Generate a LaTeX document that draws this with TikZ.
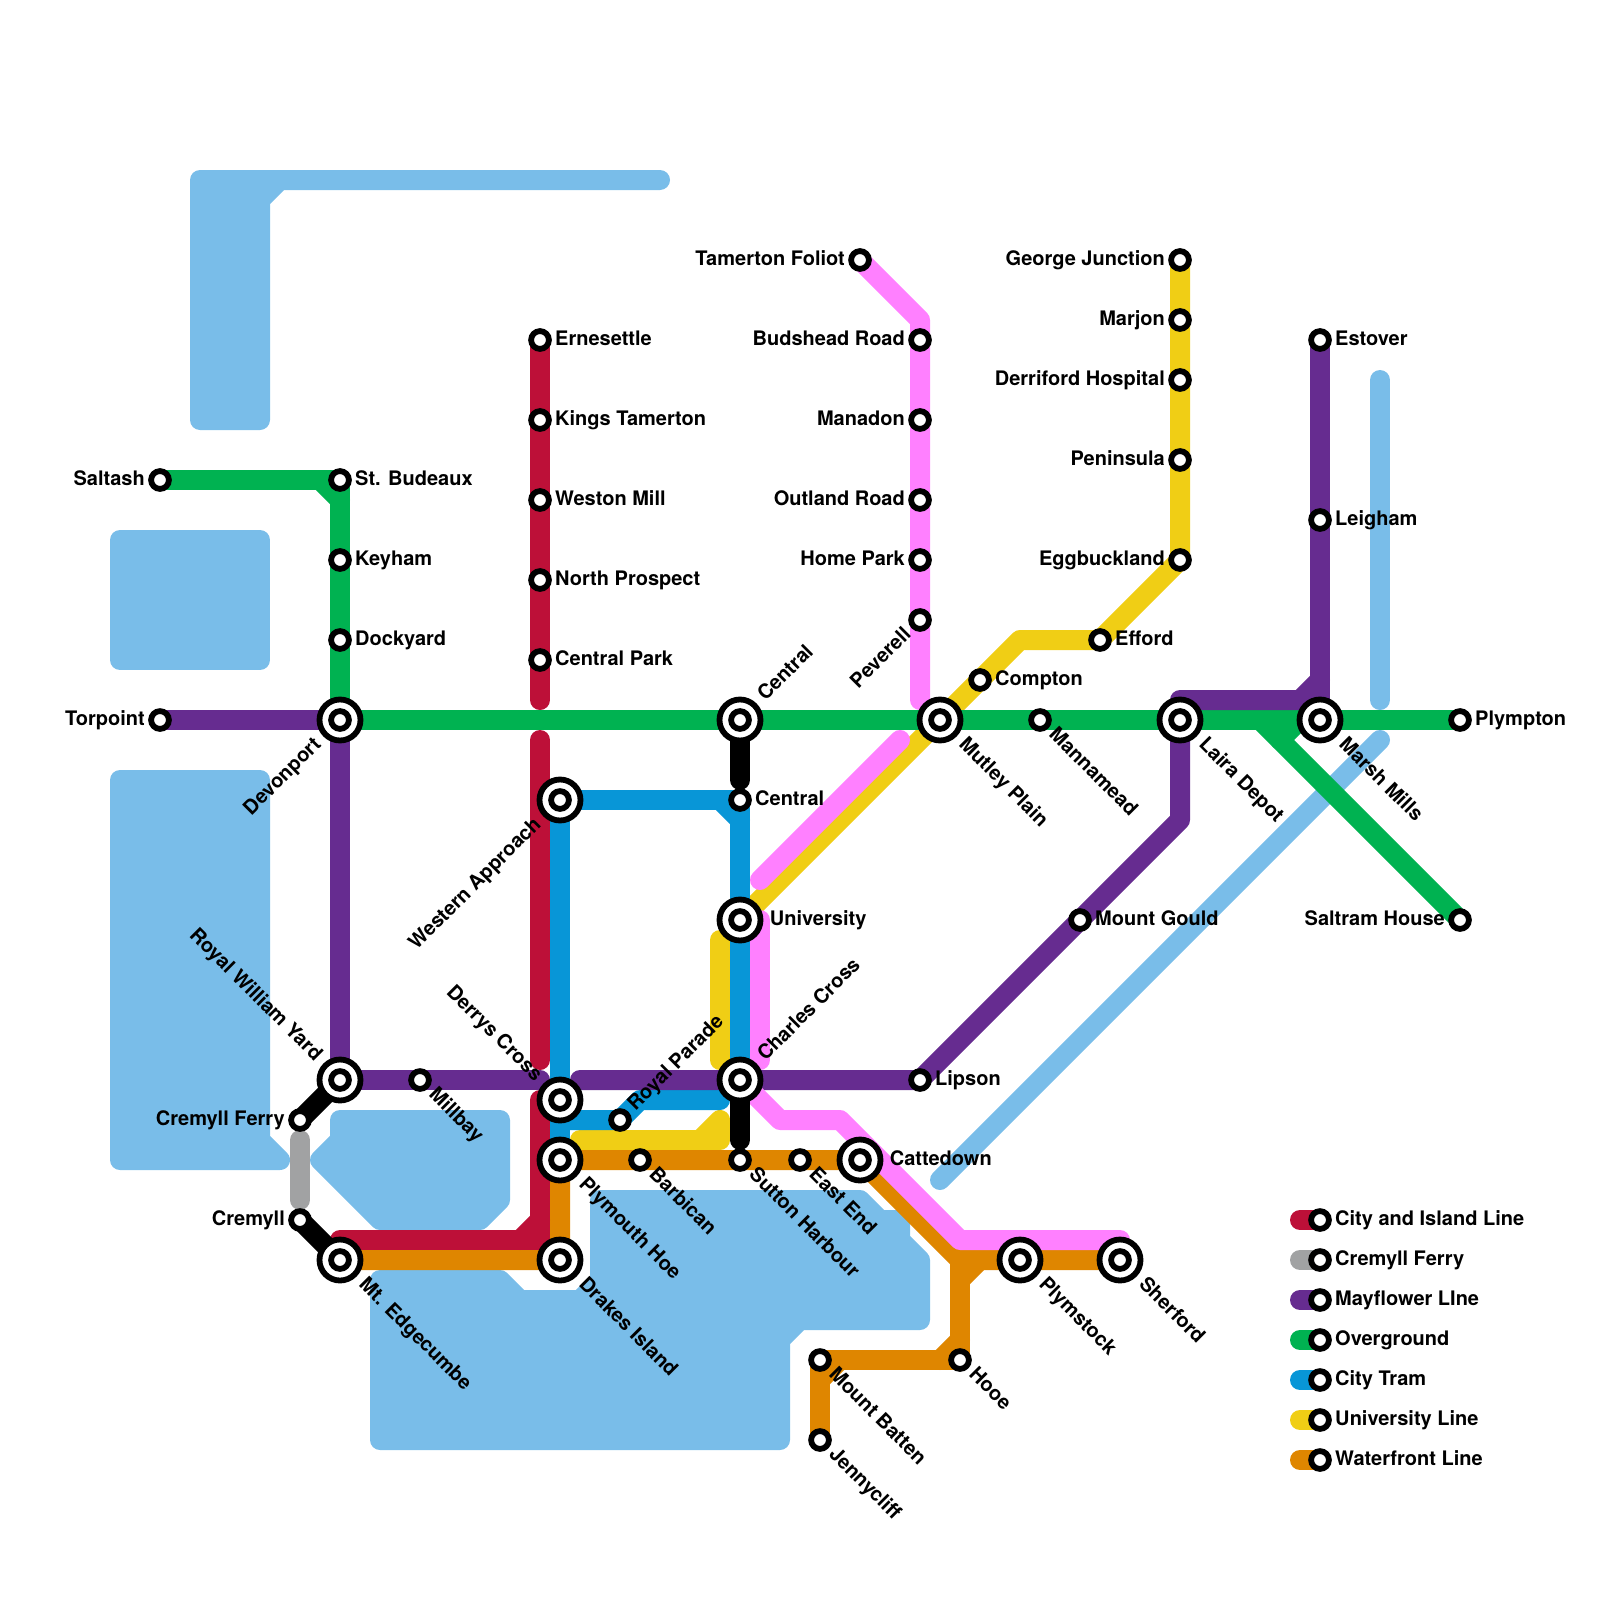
\documentclass[tikz,border=0pt]{standalone}
\usepackage{fontspec}
\setmainfont{TeX Gyre Heros}
\usetikzlibrary{positioning,backgrounds}

\definecolor{cityred}{HTML}{BD1038}
\definecolor{ferrygray}{HTML}{A1A2A3}
\definecolor{mayflower}{HTML}{662C90}
\definecolor{overground}{HTML}{00B251}
\definecolor{tramblue}{HTML}{0896D7}
\definecolor{uniyellow}{HTML}{F0CE15}
\definecolor{wharforange}{HTML}{DF8600}
\definecolor{linepink}{HTML}{FF80FF}
\definecolor{waterblue}{HTML}{79BDE9}

\tikzset{
    stn/.style={circle,draw=black,fill=white,line width=5.8pt,minimum size=17.8pt,inner sep=0pt},
    hubo/.style={circle,draw=black,fill=white,line width=5.8pt,minimum size=41pt,inner sep=0pt},
    ln/.style={line width=20pt,line cap=round,line join=round},
    water/.style={draw=waterblue,fill=waterblue,line width=20pt,line cap=round,line join=round},
    tl/.style={font=\fontsize{20}{24}\selectfont\bfseries,text height=15pt,text depth=4.4pt,inner sep=3.4pt,outer sep=0pt},
    lr/.style={tl,anchor=west},
    ll/.style={tl,anchor=east},
    ldr/.style={tl,rotate=-45,anchor=west,inner sep=4.9pt},
    lur/.style={tl,rotate=45,anchor=west,inner sep=4.9pt},
    ldl/.style={tl,rotate=45,anchor=east,inner sep=4.9pt},
    lul/.style={tl,rotate=-45,anchor=east,inner sep=4.9pt},
    hl/.style={inner sep=7.4pt},
}
\newcommand{\hubstn}[2]{\node[hubo] (#1) at (#2) {}; \node[stn] (#1i) at (#1) {};}

\begin{document}
\begin{tikzpicture}[x=20pt,y=-20pt]
    \useasboundingbox (0,0) rectangle (80,80);

    % stations, west side
    \node[stn] (saltash) at (8,24) {}; \node[ll] (saltasht) at (saltash.west) {Saltash};
    \node[stn] (budeaux) at (17,24) {}; \node[lr] (budeauxt) at (budeaux.east) {St. Budeaux};
    \node[stn] (keyham) at (17,28) {}; \node[lr] (keyhamt) at (keyham.east) {Keyham};
    \node[stn] (dockyard) at (17,32) {}; \node[lr] (dockyardt) at (dockyard.east) {Dockyard};
    \node[stn] (torpoint) at (8,36) {}; \node[ll] (torpointt) at (torpoint.west) {Torpoint};
    \hubstn{devonport}{17,36} \node[ldl,hl] (devonportt) at (devonport.225) {Devonport};
    \hubstn{william}{17,54} \node[lul,hl] (williamt) at (william.135) {Royal William Yard};
    \node[stn] (millbay) at (21,54) {}; \node[ldr] (millbayt) at (millbay.-45) {Millbay};
    \node[stn] (cremferry) at (15,56) {}; \node[ll] (cremferryt) at (cremferry.west) {Cremyll Ferry};
    \node[stn] (cremyll) at (15,61) {}; \node[ll] (cremyllt) at (cremyll.west) {Cremyll};
    \hubstn{edgecumbe}{17,63} \node[ldr,hl] (edgecumbet) at (edgecumbe.-45) {Mt. Edgecumbe};

    % stations, city and island
    \node[stn] (ernesettle) at (27,17) {}; \node[lr] (ernesettlet) at (ernesettle.east) {Ernesettle};
    \node[stn] (kings) at (27,21) {}; \node[lr] (kingst) at (kings.east) {Kings Tamerton};
    \node[stn] (weston) at (27,25) {}; \node[lr] (westont) at (weston.east) {Weston Mill};
    \node[stn] (prospect) at (27,29) {}; \node[lr] (prospectt) at (prospect.east) {North Prospect};
    \node[stn] (cpark) at (27,33) {}; \node[lr] (cparkt) at (cpark.east) {Central Park};
    \hubstn{western}{28,40} \node[ldl,hl] (westernt) at (western.225) {Western Approach};
    \hubstn{derrys}{28,55} \node[lul,hl] (derryst) at (derrys.135) {Derrys Cross};
    \hubstn{hoe}{28,58} \node[ldr,hl] (hoet) at (hoe.-45) {Plymouth Hoe};
    \hubstn{drakes}{28,63} \node[ldr,hl] (drakest) at (drakes.-45) {Drakes Island};
    \node[stn] (parade) at (31,56) {}; \node[lur] (paradet) at (parade.45) {Royal Parade};
    \node[stn] (barbican) at (32,58) {}; \node[ldr] (barbicant) at (barbican.-45) {Barbican};
    \node[stn] (sutton) at (37,58) {}; \node[ldr] (suttont) at (sutton.-45) {Sutton Harbour};
    \node[stn] (eastend) at (40,58) {}; \node[ldr] (eastendt) at (eastend.-45) {East End};
    \hubstn{cattedown}{43,58} \node[lr,inner sep=6.4pt] (cattedownt) at (cattedown.east) {Cattedown};

    % stations, centre
    \hubstn{centralup}{37,36} \node[lur,hl] (centralupt) at (centralup.45) {Central};
    \node[stn] (centrallow) at (37,40) {}; \node[lr] (centrallowt) at (centrallow.east) {Central};
    \hubstn{university}{37,46} \node[lr,inner sep=6.4pt] (universityt) at (university.east) {University};
    \hubstn{charles}{37,54} \node[lur,hl] (charlest) at (charles.45) {Charles Cross};
    \node[stn] (lipson) at (46,54) {}; \node[lr] (lipsont) at (lipson.east) {Lipson};
    \node[stn] (gould) at (54,46) {}; \node[lr] (gouldt) at (gould.east) {Mount Gould};

    % stations, north
    \node[stn] (tamerton) at (43,13) {}; \node[ll] (tamertont) at (tamerton.west) {Tamerton Foliot};
    \node[stn] (budshead) at (46,17) {}; \node[ll] (budsheadt) at (budshead.west) {Budshead Road};
    \node[stn] (manadon) at (46,21) {}; \node[ll] (manadont) at (manadon.west) {Manadon};
    \node[stn] (outland) at (46,25) {}; \node[ll] (outlandt) at (outland.west) {Outland Road};
    \node[stn] (homepark) at (46,28) {}; \node[ll] (homeparkt) at (homepark.west) {Home Park};
    \node[stn] (peverell) at (46,31) {}; \node[ldl] (peverellt) at (peverell.225) {Peverell};
    \node[stn] (george) at (59,13) {}; \node[ll] (georget) at (george.west) {George Junction};
    \node[stn] (marjon) at (59,16) {}; \node[ll] (marjont) at (marjon.west) {Marjon};
    \node[stn] (derriford) at (59,19) {}; \node[ll] (derrifordt) at (derriford.west) {Derriford Hospital};
    \node[stn] (peninsula) at (59,23) {}; \node[ll] (peninsulat) at (peninsula.west) {Peninsula};
    \node[stn] (egg) at (59,28) {}; \node[ll] (eggt) at (egg.west) {Eggbuckland};
    \node[stn] (efford) at (55,32) {}; \node[lr] (effordt) at (efford.east) {Efford};
    \node[stn] (compton) at (49,34) {}; \node[lr] (comptont) at (compton.east) {Compton};
    \hubstn{mutley}{47,36} \node[ldr,hl] (mutleyt) at (mutley.-45) {Mutley Plain};
    \node[stn] (mannamead) at (52,36) {}; \node[ldr] (mannameadt) at (mannamead.-45) {Mannamead};

    % stations, east
    \hubstn{laira}{59,36} \node[ldr,hl] (lairat) at (laira.-45) {Laira Depot};
    \hubstn{marsh}{66,36} \node[ldr,hl] (marsht) at (marsh.-45) {Marsh Mills};
    \node[stn] (estover) at (66,17) {}; \node[lr] (estovert) at (estover.east) {Estover};
    \node[stn] (leigham) at (66,26) {}; \node[lr] (leighamt) at (leigham.east) {Leigham};
    \node[stn] (plympton) at (73,36) {}; \node[lr] (plymptont) at (plympton.east) {Plympton};
    \node[stn] (saltram) at (73,46) {}; \node[ll] (saltramt) at (saltram.west) {Saltram House};
    \hubstn{plymstock}{51,63} \node[ldr,hl] (plymstockt) at (plymstock.-45) {Plymstock};
    \hubstn{sherford}{56,63} \node[ldr,hl] (sherfordt) at (sherford.-45) {Sherford};
    \node[stn] (hooe) at (48,68) {}; \node[ldr] (hooet) at (hooe.-45) {Hooe};
    \node[stn] (batten) at (41,68) {}; \node[ldr] (battent) at (batten.-45) {Mount Batten};
    \node[stn] (jenny) at (41,72) {}; \node[ldr] (jennyt) at (jenny.-45) {Jennycliff};

    % legend
    \node[stn] (kcity) at (66,61) {}; \node[lr] (kcityt) at (kcity.east) {City and Island Line};
    \node[stn] (kferry) at (66,63) {}; \node[lr] (kferryt) at (kferry.east) {Cremyll Ferry};
    \node[stn] (kmay) at (66,65) {}; \node[lr] (kmayt) at (kmay.east) {Mayflower LIne};
    \node[stn] (kover) at (66,67) {}; \node[lr] (kovert) at (kover.east) {Overground};
    \node[stn] (ktram) at (66,69) {}; \node[lr] (ktramt) at (ktram.east) {City Tram};
    \node[stn] (kuni) at (66,71) {}; \node[lr] (kunit) at (kuni.east) {University Line};
    \node[stn] (kwharf) at (66,73) {}; \node[lr] (kwharft) at (kwharf.east) {Waterfront Line};

    \begin{scope}[on background layer]
        % water
        \draw[water] (10,9) -- (33,9) -- (14,9) -- (13,10) -- (13,21) -- (10,21) -- cycle;
        \draw[water] (6,27) rectangle (13,33);
        \draw[water] (6,39) -- (13,39) -- (13,57) -- (14,58) -- (6,58) -- cycle;
        \draw[water] (17,56) -- (25,56) -- (25,60) -- (24,61) -- (19,61) -- (16,58) -- (17,57) -- cycle;
        \draw[water] (19,64) -- (25,64) -- (26,65) -- (29,65) -- (30,64) -- (30,60) -- (43,60) -- (44,61) -- (45,61)
            -- (45,62) -- (46,63) -- (46,66) -- (40,66) -- (39,67) -- (39,72) -- (19,72) -- cycle;
        \draw[ln,waterblue] (69,19) -- (69,35);
        \draw[ln,waterblue] (69,37) -- (47,59);

        % university line
        \draw[ln,uniyellow] (george.center) -- (egg.center) -- (efford.center) -- (51,32) -- (mutley.center) -- (university.center);
        \draw[ln,uniyellow] (36,47) -- (36,53);
        \draw[ln,uniyellow] (29,57) -- (35,57) -- (36,56) -- (36,57) -- cycle;

        % waterfront line
        \draw[ln,wharforange] (edgecumbe.center) -- (drakes.center) -- (hoe.center) -- (cattedown.center) -- (48,63) -- (sherford.center);
        \draw[ln,wharforange] (jenny.center) -- (batten.center) -- (hooe.center) -- (48,63);
        \draw[ln,wharforange] (47,68) -- (48,67);
        \draw[ln,wharforange] (48,64) -- (49,63);
        \draw[ln,wharforange] (41,69) -- (42,68);

        % overground
        \draw[ln,overground] (saltash.center) -- (budeaux.center) -- (devonport.center) -- (plympton.center);
        \draw[ln,overground] (16,24) -- (17,25);
        \draw[ln,overground] (63,36) -- (saltram.center);
        \draw[ln,overground] (65,36) -- (64,37);

        % city tram
        \draw[ln,tramblue] (western.center) -- (centrallow.center) -- (charles.center);
        \draw[ln,tramblue] (36,40) -- (37,41);
        \draw[ln,tramblue] (western.center) -- (hoe.center);
        \draw[ln,tramblue] (28,56) -- (parade.center) -- (32,55) -- (36,55);

        % city and island
        \draw[ln,cityred] (ernesettle.center) -- (27,35);
        \draw[ln,cityred] (27,37) -- (27,53);
        \draw[ln,cityred] (27,55) -- (27,62) -- (17,62);
        \draw[ln,cityred] (26,62) -- (27,61);

        % mayflower
        \draw[ln,mayflower] (torpoint.center) -- (devonport.center) -- (william.center) -- (27,54);
        \draw[ln,mayflower] (29,54) -- (lipson.center) -- (59,41) -- (laira.center) -- (59,35) -- (66,35) -- (marsh.center);
        \draw[ln,mayflower] (marsh.center) -- (estover.center);
        \draw[ln,mayflower] (65,35) -- (66,34);

        % ferry
        \draw[ln,ferrygray] (15,57) -- (15,60);

        % pink line
        \draw[ln,linepink] (tamerton.center) -- (46,16) -- (46,35);
        \draw[ln,linepink] (45,37) -- (38,44);
        \draw[ln,linepink] (38,46) -- (38,53);
        \draw[ln,linepink] (charles.center) -- (39,56) -- (42,56) -- (48,62) -- (56,62);

        % black links
        \draw[ln,black] (cremferry.center) -- (william.center);
        \draw[ln,black] (cremyll.center) -- (edgecumbe.center);
        \draw[ln,black] (centralup.center) -- (37,39);
        \draw[ln,black] (charles.center) -- (37,57);

        % legend bars
        \draw[ln,cityred] (65,61) -- (kcity.center);
        \draw[ln,ferrygray] (65,63) -- (kferry.center);
        \draw[ln,mayflower] (65,65) -- (kmay.center);
        \draw[ln,overground] (65,67) -- (kover.center);
        \draw[ln,tramblue] (65,69) -- (ktram.center);
        \draw[ln,uniyellow] (65,71) -- (kuni.center);
        \draw[ln,wharforange] (65,73) -- (kwharf.center);
    \end{scope}
\end{tikzpicture}
\end{document}
